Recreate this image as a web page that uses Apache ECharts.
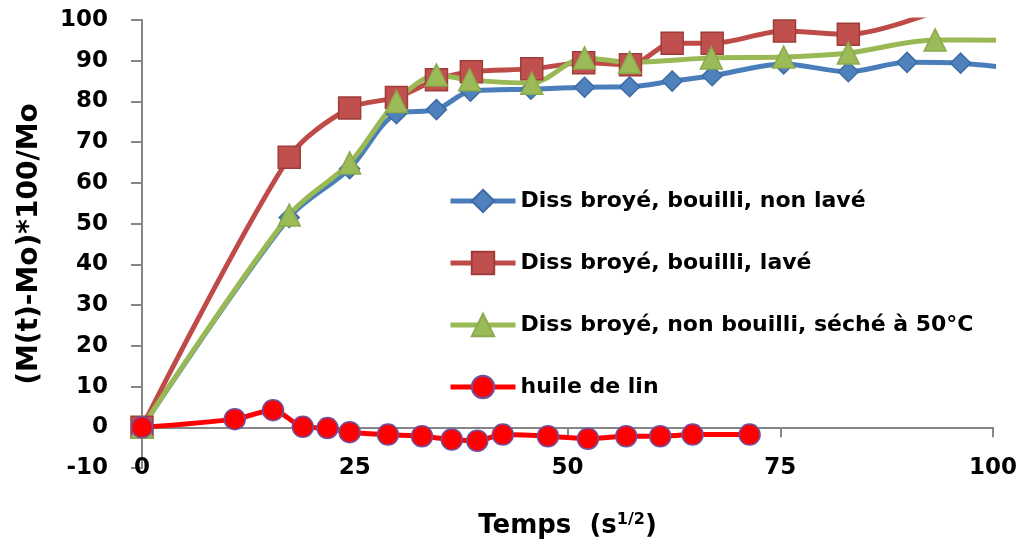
<!DOCTYPE html>
<html>
<head>
<meta charset="utf-8">
<script src="https://cdn.jsdelivr.net/npm/echarts@6/dist/echarts.min.js"></script>
<style>
  html, body { margin: 0; padding: 0; background: #ffffff; }
  #chart { width: 1023px; height: 545px; }
</style>
</head>
<body>
<div id="chart"></div>
<script>
// Time axis values (s^1/2) and relative mass change (%) for each sample
const tNonLave = [0, 17.3, 24.4, 29.9, 34.6, 38.6, 45.7, 52.0, 57.3, 62.3, 67.0, 75.4, 83.0, 89.9, 96.2, 103];
const vNonLave = [0, 51.5, 63.5, 77.0, 78.0, 82.5, 83.0, 83.5, 83.6, 85.0, 86.3, 89.2, 87.3, 89.6, 89.4, 87.9];

const tLave = [0, 17.3, 24.4, 29.9, 34.6, 38.7, 45.8, 51.9, 57.4, 62.3, 67.0, 75.5, 83.0, 96.2];
const vLave = [0, 66.3, 78.4, 81.0, 85.3, 87.3, 88.0, 89.5, 89.0, 94.3, 94.3, 97.3, 96.5, 104.5];

const tSeche = [0, 17.3, 24.4, 29.9, 34.6, 38.5, 45.8, 52.0, 57.3, 66.9, 75.4, 83.0, 93.2, 103];
const vSeche = [0, 52.1, 64.9, 80.0, 86.5, 85.3, 84.5, 90.7, 89.6, 90.7, 90.9, 91.9, 95.1, 95.0];

const tHuile = [0, 10.9, 15.4, 18.9, 21.8, 24.4, 28.9, 32.9, 36.4, 39.4, 42.4, 47.7, 52.4, 56.9, 60.9, 64.7, 71.4];
const vHuile = [0, 2.0, 4.2, 0.1, -0.2, -1.2, -1.8, -2.2, -3.0, -3.3, -1.8, -2.2, -2.8, -2.2, -2.2, -1.8, -1.8];

const seriesNames = [
  'Diss broyé, bouilli, non lavé',
  'Diss broyé, bouilli, lavé',
  'Diss broyé, non bouilli, séché à 50°C',
  'huile de lin'
];

const xTicks = { min: 0, max: 100, interval: 25 };
const yTicks = { min: -10, max: 100, interval: 10 };

const zip = (xs, ys) => xs.map((x, i) => [x, ys[i]]);

const FONT = 'DejaVu Sans';
const axisGray = '#868686';

const chart = echarts.init(document.getElementById('chart'), null, { renderer: 'canvas' });

function lineSeries(name, data, lineColor, markColor, borderColor, symbol, size) {
  return {
    name: name,
    type: 'line',
    data: data,
    smooth: 0.3,
    clip: true,
    symbol: symbol,
    symbolSize: size,
    showAllSymbol: true,
    lineStyle: { color: lineColor, width: 5 },
    itemStyle: { color: markColor, borderColor: borderColor, borderWidth: 1.5 },
    emphasis: { disabled: true },
    animation: false
  };
}

chart.setOption({
  backgroundColor: '#ffffff',
  animation: false,
  grid: { left: 142, right: 30, top: 20, bottom: 77, containLabel: false, outerBoundsMode: 'none' },
  legend: {
    orient: 'vertical',
    left: 443,
    top: 182,
    itemWidth: 65,
    itemHeight: 28,
    itemGap: 34,
    data: seriesNames,
    lineStyle: { width: 5 },
    textStyle: { fontFamily: FONT, fontWeight: 'bold', fontSize: 22, color: '#000000', lineHeight: 28 }
  },
  xAxis: {
    type: 'value',
    min: xTicks.min,
    max: xTicks.max,
    interval: xTicks.interval,
    name: '{t|Temps  (s}{sup|1/2}{t|)}',
    nameLocation: 'middle',
    nameGap: 44,
    nameTextStyle: {
      rich: {
        t: { fontFamily: FONT, fontWeight: 'bold', fontSize: 26, color: '#000000' },
        sup: { fontFamily: FONT, fontWeight: 'bold', fontSize: 16, color: '#000000', verticalAlign: 'top', padding: [0, 0, 12, 0] }
      }
    },
    axisLine: { onZero: true, lineStyle: { color: axisGray, width: 2 } },
    axisTick: { show: true, inside: false, length: 10, lineStyle: { color: axisGray, width: 2 } },
    axisLabel: { margin: -11, fontFamily: FONT, fontWeight: 'bold', fontSize: 23, color: '#000000' },
    splitLine: { show: false }
  },
  yAxis: {
    type: 'value',
    min: yTicks.min,
    max: yTicks.max,
    interval: yTicks.interval,
    name: '(M(t)-Mo)*100/Mo',
    nameLocation: 'middle',
    nameGap: 98,
    nameRotate: 90,
    nameTextStyle: { fontFamily: FONT, fontWeight: 'bold', fontSize: 28, color: '#000000' },
    axisLine: { show: true, lineStyle: { color: axisGray, width: 2 } },
    axisTick: { show: true, inside: false, length: 11, lineStyle: { color: axisGray, width: 2 } },
    axisLabel: { margin: 34, fontFamily: FONT, fontWeight: 'bold', fontSize: 23, color: '#000000' },
    splitLine: { show: false }
  },
  series: [
    lineSeries(seriesNames[0], zip(tNonLave, vNonLave), '#4a7ebb', '#4f81bd', '#3d6ba3', 'diamond', 20),
    lineSeries(seriesNames[1], zip(tLave, vLave), '#be4b48', '#c0504d', '#9e3d3a', 'rect', 22),
    lineSeries(seriesNames[2], zip(tSeche, vSeche), '#98b954', '#9bbb59', '#8aaa4c', 'triangle', 22),
    lineSeries(seriesNames[3], zip(tHuile, vHuile), '#ff0000', '#ff0000', '#7050a0', 'circle', 21)
  ]
});
</script>
</body>
</html>
